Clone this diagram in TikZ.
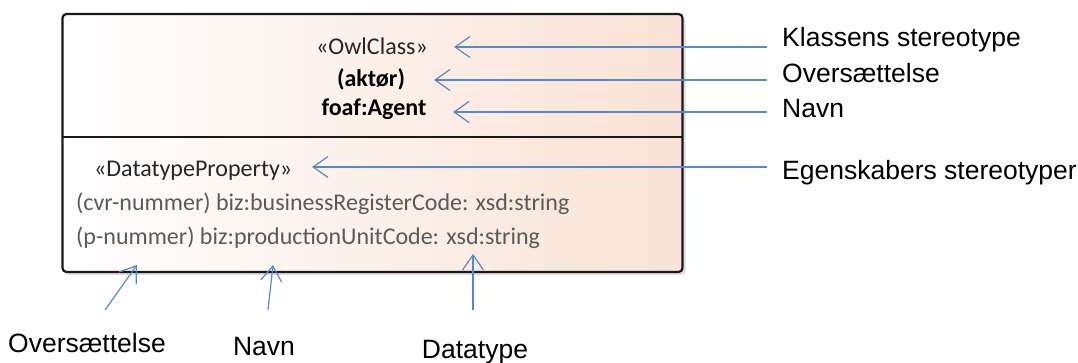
\documentclass[tikz,border=0pt]{standalone}
\usepackage{fontspec}
\setmainfont{Liberation Sans}
\newfontfamily\boxfont{Carlito}
\usetikzlibrary{arrows.meta,shadows}
\definecolor{arrowblue}{HTML}{5A87C5}
\definecolor{boxpeach}{HTML}{F9E2D5}
\definecolor{attrgray}{HTML}{5A5A5A}
\tikzset{
  classbox/.style={draw=black!90, line width=2.2pt, rounded corners=4pt,
    shading=axis, left color=white, right color=boxpeach, shading angle=90,
    drop shadow={shadow xshift=3pt, shadow yshift=-3pt, opacity=0.25}},
  boxtext/.style={font=\boxfont\fontsize{24}{28}\selectfont, inner sep=0pt},
  boldtext/.style={boxtext, font=\boxfont\bfseries\fontsize{24}{28}\selectfont},
  attr/.style={boxtext, text=attrgray, anchor=west},
  label/.style={font=\fontsize{26.5}{30}\selectfont, inner sep=0pt},
  pointer/.style={arrowblue, line width=1.2pt, -{Straight Barb[length=15pt,width=21pt]}},
}
\begin{document}
\begin{tikzpicture}[x=1pt,y=-1pt]
\useasboundingbox (0,0) rectangle (1078,363);

\node (cls) [classbox, minimum width=620pt, minimum height=258pt] at (372.5,143) {};
\draw [black!90, line width=2.2pt] (62,137) -- (683,137);

\node (stereo) [boxtext, text=black!85] at (372,46) {«OwlClass»};
\node (trans)  [boldtext] at (371,79) {(aktør)};
\node (name)   [boldtext] at (374,109) {foaf:Agent};

\node (dtprop) [attr, text=black!85] at (94,171) {«DatatypeProperty»};
\node (cvr)    [attr] at (76,204) {(cvr-nummer) biz:businessRegisterCode: xsd:string};
\node (pnr)    [attr] at (76,238) {(p-nummer) biz:productionUnitCode: xsd:string};

\node (lstereo) [label, anchor=west] at (782,40)  {Klassens stereotype};
\node (ltrans)  [label, anchor=west] at (782,73)  {Oversættelse};
\node (lname)   [label, anchor=west] at (782,109) {Navn};
\node (lprop)   [label, anchor=west] at (782,173) {Egenskabers stereotyper};

\node (btrans) [label] at (87,343) {Oversættelse};
\node (bname)  [label] at (264,347) {Navn};
\node (btype)  [label] at (475,352) {Datatype};

\coordinate (s1) at (767,47);  \coordinate (t1) at (454,47);
\coordinate (s2) at (767,80);  \coordinate (t2) at (434,80);
\coordinate (s3) at (767,112); \coordinate (t3) at (453,112);
\coordinate (s4) at (767,167); \coordinate (t4) at (312,167);
\coordinate (b1) at (105,310); \coordinate (u1) at (137,265);
\coordinate (b2) at (268,310); \coordinate (u2) at (273,265);
\coordinate (b3) at (473,310); \coordinate (u3) at (473,254);

\draw [pointer] (s1) -- (t1);
\draw [pointer] (s2) -- (t2);
\draw [pointer] (s3) -- (t3);
\draw [pointer] (s4) -- (t4);
\draw [pointer] (b1) -- (u1);
\draw [pointer] (b2) -- (u2);
\draw [pointer] (b3) -- (u3);
\end{tikzpicture}
\end{document}
